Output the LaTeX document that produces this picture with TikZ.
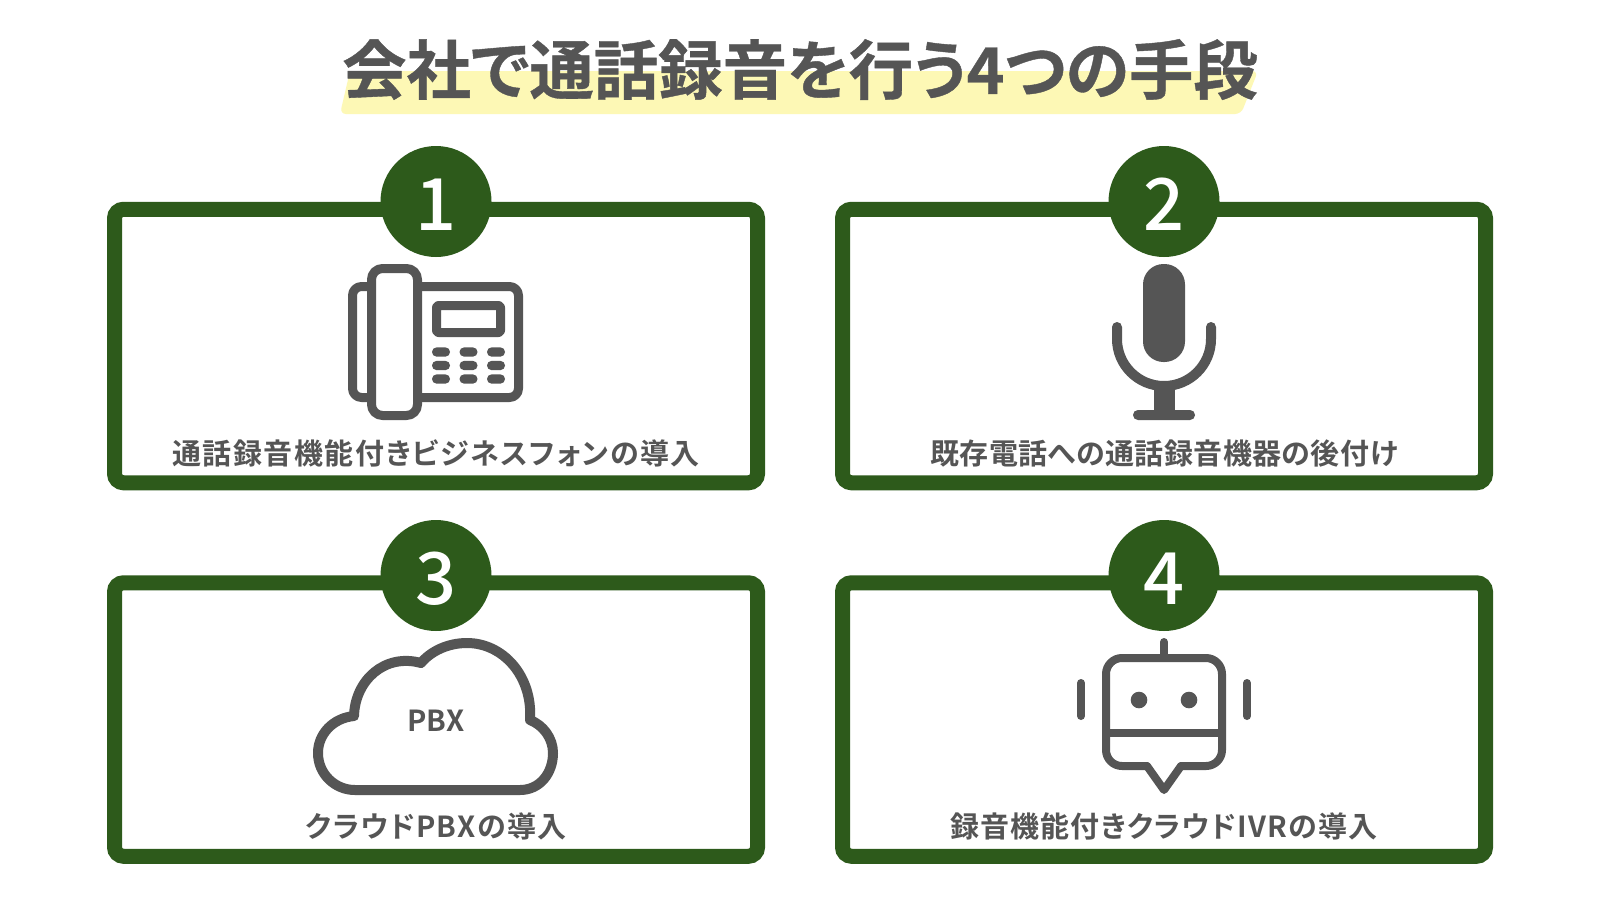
\documentclass[tikz,border=0pt]{standalone}
\usepackage{fontspec}
\setmainfont{Noto Sans CJK JP}[BoldFont={Noto Sans CJK JP Bold}]
\newfontfamily\medfont{Noto Sans CJK JP Medium}
\newfontfamily\palfont{Noto Sans CJK JP Bold}[RawFeature=+palt]
\newfontfamily\titlefont{Noto Sans CJK JP Bold}[RawFeature=+palt,FakeBold=0.6]
\definecolor{grn}{HTML}{2D5A1B}
\definecolor{ink}{HTML}{555555}
\definecolor{hl}{HTML}{FDF8B5}
\tikzset{
 card/.style={draw=grn,line width=15pt,fill=white,rounded corners=9pt,minimum width=643pt,minimum height=273.5pt,inner sep=0pt,outer sep=0pt},
 badge/.style={circle,fill=grn,text=white,minimum size=111pt,inner sep=0pt,outer sep=0pt,text height=57.5pt,text depth=0pt,font=\medfont\fontsize{72}{72}\selectfont},
 caption/.style={text=ink,inner sep=0pt,font=\palfont\fontsize{29}{29}\selectfont},
 iconline/.style={draw=ink,line width=9pt,line join=round,line cap=round},
 iconfill/.style={fill=ink,draw=none},
}
\begin{document}
\begin{tikzpicture}[x=1pt,y=-1pt]
\useasboundingbox (0,0) rectangle (1600,900);
\fill[white] (0,0) rectangle (1600,900);
% title highlight
\fill[hl,rounded corners=6pt] (350,71) -- (1258,71) -- (1241,114) -- (340,114) -- cycle;
\node[text=ink,inner sep=0pt,font=\titlefont\fontsize{64.4}{64.4}\selectfont] (title) at (800,69.5) {会社で通話録音を行う4つの手段};
% cards
\node[card] (c1) at (436,346) {};
\node[card] (c2) at (1164,346) {};
\node[card] (c3) at (436,719.5) {};
\node[card] (c4) at (1164,719.5) {};
\node[badge] (b1) at (436,201.5) {1};
\node[badge] (b2) at (1164,201.5) {2};
\node[badge] (b3) at (436,575.5) {3};
\node[badge] (b4) at (1164,575.5) {4};
\node[caption] (t1) at (436,453) {\addfontfeature{LetterSpace=5.2}通話録音機能付きビジネスフォンの導入};
\node[caption] (t2) at (1164,453) {\addfontfeature{LetterSpace=1.4}既存電話への通話録音機器の後付け};
\node[caption] (t3) at (436,826.5) {\addfontfeature{LetterSpace=4.6}クラウドPBXの導入};
\node[caption] (t4) at (1164,826.5) {\addfontfeature{LetterSpace=4.2}録音機能付きクラウドIVRの導入};
% phone
\draw[iconline,rounded corners=9pt] (371,286.5) -- (352.5,286.5) -- (352.5,397.5) -- (371,397.5);
\draw[iconline,rounded corners=9pt] (418,286.5) -- (518.5,286.5) -- (518.5,397.5) -- (418,397.5);
\draw[iconline,rounded corners=11pt] (371.5,268.5) rectangle (417.5,415.5);
\draw[iconline,rounded corners=2pt] (436.5,305.5) rectangle (500.5,332.5);
\foreach \yy in {352,365.5,379}{
 \fill[iconfill,rounded corners=4.5pt] (432,\yy-4.6) rectangle (450,\yy+4.6);
 \fill[iconfill,rounded corners=4.5pt] (459.5,\yy-4.6) rectangle (477.5,\yy+4.6);
 \fill[iconfill,rounded corners=4.5pt] (487,\yy-4.6) rectangle (505,\yy+4.6);
}
% mic
\fill[iconfill,rounded corners=20.5pt] (1143,264) rectangle (1185,362);
\draw[draw=ink,line width=10pt,line cap=round] (1117,327) -- (1117,339) arc[start angle=180,end angle=0,x radius=47,y radius=47] -- (1211,327);
\fill[iconfill] (1153.5,385) rectangle (1174.5,412);
\fill[iconfill,rounded corners=4.9pt] (1133,410) rectangle (1195,420);
% cloud
\draw[draw=ink,line width=10pt,line join=round] (355,790) -- (520,790)
 .. controls (540,790) and (553,773) .. (553,753)
 .. controls (553,738) and (543,725) .. (530,720)
 .. controls (533,676) and (503,643) .. (467,643)
 .. controls (448,643) and (431,651) .. (421,663)
 .. controls (385,653) and (355,680) .. (354,716)
 .. controls (333,718) and (318,734) .. (318,753)
 .. controls (318,774) and (335,790) .. (355,790) -- cycle;
\node[text=ink,inner sep=0pt,font=\bfseries\fontsize{29}{29}\selectfont] (pbx) at (436,721) {PBX};
% robot
\draw[iconline,line width=8pt,rounded corners=16pt] (1147,766) -- (1106,766) -- (1106,658) -- (1222,658) -- (1222,766) -- (1181,766);
\draw[iconline,line width=8pt] (1147,766) -- (1164,790) -- (1181,766);
\draw[iconline,line width=8pt] (1164,642) -- (1164,656);
\draw[iconline,line width=8pt,line cap=butt] (1106,733) -- (1222,733);
\draw[iconline,line width=8pt] (1081,683) -- (1081,716);
\draw[iconline,line width=8pt] (1247,683) -- (1247,716);
\fill[iconfill] (1139,700) circle[radius=8.3];
\fill[iconfill] (1189,700) circle[radius=8.3];
\end{tikzpicture}
\end{document}
